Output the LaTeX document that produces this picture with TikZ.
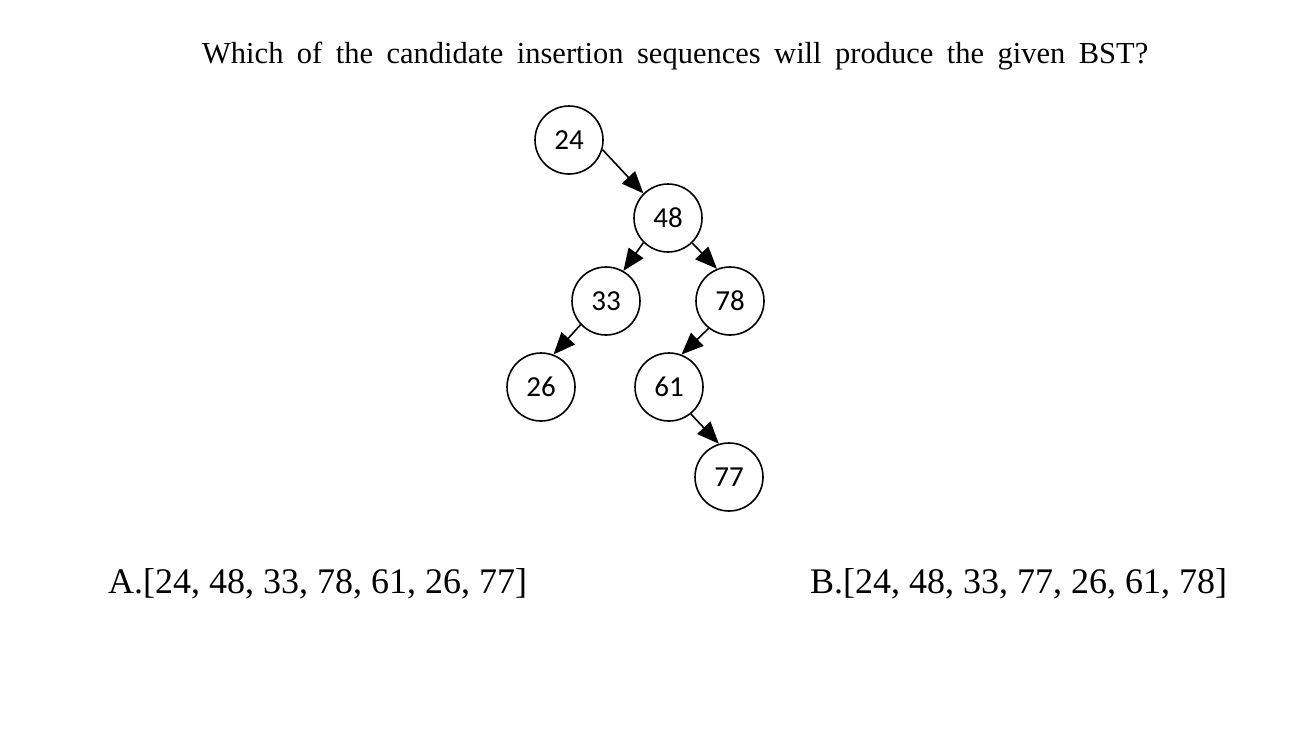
\documentclass[tikz,border=0pt]{standalone}
\usepackage{fontspec}
\setmainfont{Liberation Serif}
\newfontfamily\keyfont{Carlito}
\usetikzlibrary{arrows.meta}

\begin{document}
\begin{tikzpicture}[x=1pt,y=-1pt,
  key/.style={circle,draw,line width=1.6pt,minimum size=68pt,inner sep=0pt,
    font=\keyfont\fontsize{29}{32}\selectfont},
  link/.style={line width=1.6pt,-{Triangle[length=22pt,width=18pt]}}]
  \useasboundingbox (0,0) rectangle (1300,731);
  \node[anchor=base west,inner sep=0pt,font=\fontsize{30.5}{34}\selectfont] (question) at (202,63)
    {\makebox[946pt][s]{Which of the candidate insertion sequences will produce the given BST?}};
  % the tree
  \node[key] (k24) at (569,140) {24};
  \node[key] (k48) at (668,218) {48};
  \node[key] (k33) at (606,301) {33};
  \node[key] (k78) at (730,301) {78};
  \node[key] (k26) at (541,387) {26};
  \node[key] (k61) at (669,387) {61};
  \node[key] (k77) at (729,477) {77};
  \draw[link] (k24.-16) -- (k48.135);
  \draw[link] (k48.225) -- (k33.60);
  \draw[link] (k48.-46) -- (k78.112);
  \draw[link] (k33.223) -- (k26.69);
  \draw[link] (k78.232) -- (k61.69);
  \draw[link] (k61.-51) -- (k77.107);
  % the two answers
  \node[anchor=base west,inner sep=0pt,font=\fontsize{36}{42}\selectfont] (optA) at (108,593)
    {A.[24, 48, 33, 78, 61, 26, 77]};
  \node[anchor=base west,inner sep=0pt,font=\fontsize{36}{42}\selectfont] (optB) at (810,593)
    {B.[24, 48, 33, 77, 26, 61, 78]};
\end{tikzpicture}
\end{document}
